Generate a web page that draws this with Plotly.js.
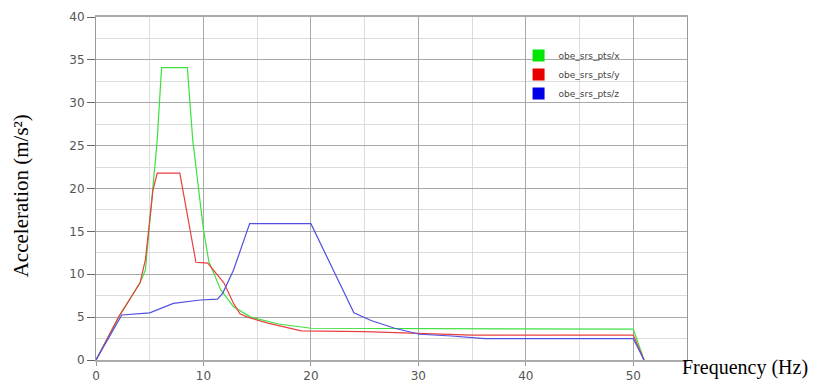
<!DOCTYPE html>
<html>
<head>
<meta charset="utf-8">
<script src="https://cdn.plot.ly/plotly-3.0.1.min.js"></script>
<style>html,body{margin:0;padding:0;background:#fff;}#chart{width:815px;height:383px;}</style>
</head>
<body>
<div id="chart"></div>
<script>
// Series names
const seriesNames = ["obe_srs_pts/x", "obe_srs_pts/y", "obe_srs_pts/z"];
// Frequency (Hz) / Acceleration (m/s²) for each series
const freqX = [0, 2.1, 4.1, 4.6, 5.7, 6.1, 8.5, 9.0, 10.0, 10.5, 11.6, 12.8, 14.4, 17, 20, 50, 51];
const accX  = [0, 5.0, 9.0, 10.5, 25.7, 34.1, 34.1, 25.7, 15.2, 11.5, 8.2, 6.2, 5.0, 4.2, 3.7, 3.6, 0];
const freqY = [0, 2.1, 4.1, 4.6, 5.3, 5.7, 7.8, 9.3, 10.4, 11.9, 12.8, 13.4, 14.1, 16, 19.1, 25, 30, 35, 50, 51];
const accY  = [0, 5.0, 9.0, 11.7, 19.8, 21.8, 21.8, 11.4, 11.3, 9.0, 6.6, 5.4, 5.0, 4.3, 3.4, 3.3, 3.1, 2.9, 2.9, 0];
const freqZ = [0, 2.4, 5.0, 7.2, 9.7, 11.3, 11.8, 12.8, 14.3, 20.0, 24.0, 25.6, 27.8, 30.1, 33.1, 36.2, 50, 51];
const accZ  = [0, 5.25, 5.5, 6.6, 7.0, 7.1, 7.8, 10.5, 15.9, 15.9, 5.5, 4.6, 3.7, 3.0, 2.8, 2.5, 2.5, 0];
// Tick values
const xTicks = [0, 10, 20, 30, 40, 50];
const yTicks = [0, 5, 10, 15, 20, 25, 30, 35, 40];
const xTitle = "Frequency (Hz)";
const yTitle = "Acceleration (m/s²)";

const lineColors = ["#3ee03e", "#e84040", "#5050e0"];
const swatchColors = ["#00e600", "#e60000", "#0000e6"];
const xs = [freqX, freqY, freqZ];
const ys = [accX, accY, accZ];

const traces = [];
for (let i = 0; i < 3; i++) {
  traces.push({
    type: "scatter", mode: "lines", x: xs[i], y: ys[i],
    line: {color: lineColors[i], width: 1.2}, showlegend: false, hoverinfo: "skip"
  });
}
for (let i = 0; i < 3; i++) {
  traces.push({
    type: "bar", x: [null], y: [null], name: seriesNames[i],
    marker: {color: swatchColors[i]}, showlegend: true
  });
}

const tickFont = {family: "DejaVu Sans", size: 12, color: "#555"};
const layout = {
  width: 815, height: 383,
  margin: {l: 96, r: 128, t: 17, b: 23},
  paper_bgcolor: "#fff", plot_bgcolor: "#fff",
  showlegend: true,
  legend: {x: 0.715, y: 0.93, xanchor: "left", yanchor: "top",
    font: {family: "DejaVu Sans", size: 9, color: "#444"},
    bgcolor: "rgba(0,0,0,0)", tracegroupgap: 0},
  xaxis: {range: [0, 55], tickvals: xTicks, ticktext: xTicks.map(String),
    showgrid: true, gridcolor: "#a8a8a8", gridwidth: 1,
    minor: {dtick: 5, tick0: 0, showgrid: true, gridcolor: "#dcdcdc", ticks: ""},
    zeroline: false, showline: true, linecolor: "#aaa", linewidth: 2, mirror: true,
    ticks: "outside", ticklen: 4, tickcolor: "#999", tickfont: tickFont, fixedrange: true},
  yaxis: {range: [0, 40], tickvals: yTicks, ticktext: yTicks.map(String),
    showgrid: true, gridcolor: "#a8a8a8", gridwidth: 1,
    minor: {dtick: 2.5, tick0: 0, showgrid: true, gridcolor: "#dcdcdc", ticks: ""},
    zeroline: false, showline: true, linecolor: "#999", linewidth: 1, mirror: true,
    ticks: "outside", ticklen: 8, tickcolor: "#666", tickfont: tickFont, fixedrange: true},
  annotations: [
    {text: xTitle, xref: "paper", yref: "paper", x: 0.988, y: -0.023,
      xanchor: "left", yanchor: "middle", showarrow: false,
      font: {family: "Liberation Serif", size: 20, color: "#000"}},
    {text: yTitle, xref: "paper", yref: "paper", x: -0.127, y: 0.48,
      xanchor: "center", yanchor: "middle", showarrow: false, textangle: -90,
      font: {family: "Liberation Serif", size: 21, color: "#000"}}
  ]
};
Plotly.newPlot("chart", traces, layout, {displayModeBar: false, staticPlot: true});
</script>
</body>
</html>
